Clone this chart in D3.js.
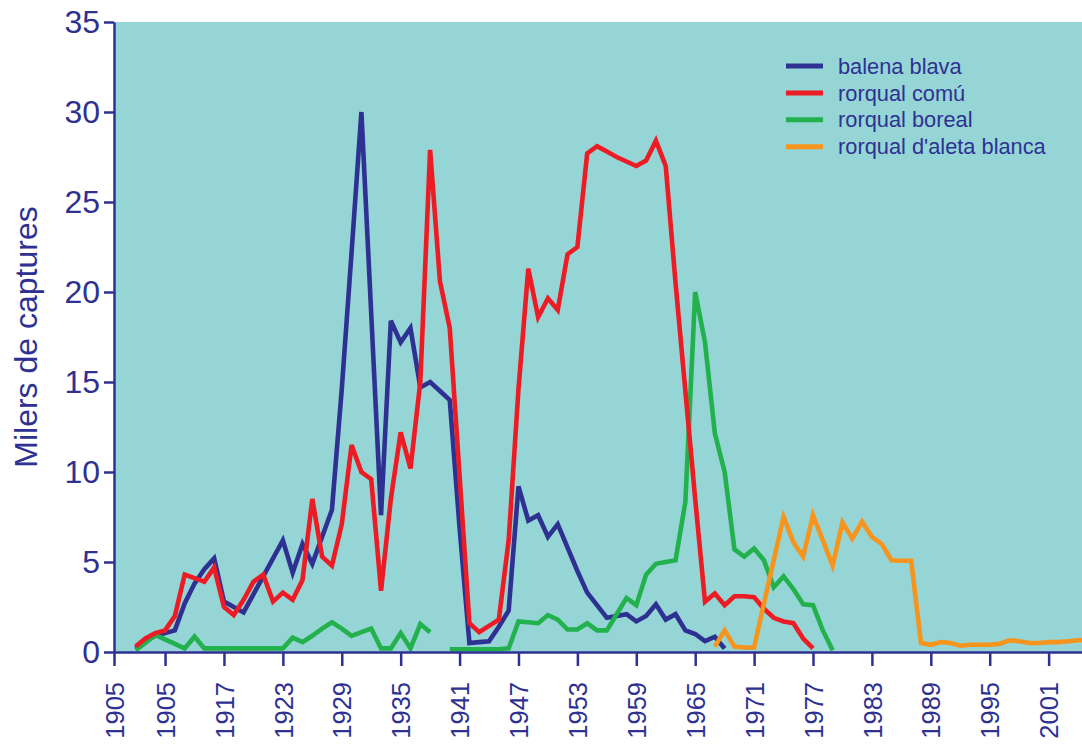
<!DOCTYPE html>
<html>
<head>
<meta charset="utf-8">
<script src="https://cdn.jsdelivr.net/npm/d3@7"></script>
<style>
  body { margin: 0; background: #fff; }
  text { font-family: "Liberation Sans", Arial, sans-serif; fill: #2e3192; }
</style>
</head>
<body>
<script>
//data (milers de captures per any)
var blueStart = 1908;
var blueValues = [0.2, 0.6, 0.9, 1.05, 1.2, 2.7, 3.8, 4.6, 5.2, 2.8, 2.5, 2.2, 3.2, 4.2, 5.2, 6.2,
  4.4, 6.0, 4.9, 6.4, 7.9, 14.6, 22.2, 30.0, 18.8, 7.6, 18.4, 17.2, 18.0, 14.7, 15.0, 14.5, 14.0,
  6.9, 0.5, 0.55, 0.6, 1.4, 2.3, 9.2, 7.3, 7.6, 6.4, 7.1, 5.8, 4.5, 3.3, 2.6, 1.9, 2.0, 2.1, 1.7,
  2.0, 2.65, 1.8, 2.1, 1.2, 1.0, 0.6, 0.85, 0.2];

var redStart = 1908;
var redValues = [0.3, 0.75, 1.05, 1.2, 2.0, 4.3, 4.1, 3.9, 4.7, 2.5, 2.05, 2.9, 3.9, 4.3, 2.8, 3.3,
  2.9, 4.0, 8.5, 5.3, 4.8, 7.1, 11.5, 10.0, 9.6, 3.4, 8.5, 12.2, 10.2, 15.0, 27.9, 20.6, 18.0,
  9.8, 1.6, 1.1, 1.45, 1.8, 6.2, 14.6, 21.3, 18.6, 19.65, 19.0, 22.1, 22.5, 27.7, 28.1, 27.8,
  27.5, 27.25, 27.0, 27.3, 28.4, 27.0, 20.5, 14.5, 8.5, 2.8, 3.25, 2.6, 3.1, 3.1, 3.05, 2.4, 1.9,
  1.7, 1.6, 0.75, 0.2];

var greenStart = 1908;
var greenValues = [0.1, 0.5, 0.95, 0.7, 0.45, 0.2, 0.85, 0.2, 0.2, 0.2, 0.2, 0.2, 0.2, 0.2, 0.2,
  0.2, 0.8, 0.55, 0.9, 1.3, 1.65, 1.3, 0.9, 1.1, 1.3, 0.2, 0.2, 1.05, 0.2, 1.55, 1.1, null, 0.15,
  0.15, 0.15, 0.15, 0.15, 0.15, 0.2, 1.7, 1.65, 1.6, 2.05, 1.8, 1.25, 1.25, 1.6, 1.2, 1.2, 2.1,
  3.0, 2.6, 4.3, 4.9, 5.0, 5.1, 8.35, 20.0, 17.2, 12.15, 10.0, 5.7, 5.3, 5.75, 5.1, 3.6, 4.2, 3.5,
  2.65, 2.6, 1.2, 0.1];

var orangeStart = 1967;
var orangeValues = [0.3, 1.2, 0.3, 0.25, 0.25, 2.7, 5.1, 7.5, 6.1, 5.3, 7.6, 6.2, 4.8, 7.2, 6.3,
  7.24, 6.4, 6.0, 5.1, 5.07, 5.07, 0.5, 0.4, 0.55, 0.5, 0.35, 0.4, 0.4, 0.4, 0.45, 0.65, 0.6,
  0.5, 0.5, 0.55, 0.55, 0.6, 0.65, 0.7];

var seriesNames = ['balena blava', 'rorqual comú', 'rorqual boreal', "rorqual d'aleta blanca"];
var seriesColors = ['#2e3192', '#ed1c24', '#22b14c', '#f7941d'];

var xTickYears = [1905.8, 1911, 1917, 1923, 1929, 1935, 1941, 1947, 1953, 1959, 1965, 1971, 1977, 1983, 1989, 1995, 2001];
var xTickLabels = ['1905', '1905', '1917', '1923', '1929', '1935', '1941', '1947', '1953', '1959', '1965', '1971', '1977', '1983', '1989', '1995', '2001'];
var yTicks = [0, 5, 10, 15, 20, 25, 30, 35];

function toPoints(start, values) {
  return values.map(function(v, i) { return {year: start + i, value: v}; });
}

var series = [
  toPoints(blueStart, blueValues),
  toPoints(greenStart, greenValues),
  toPoints(redStart, redValues),
  toPoints(orangeStart, orangeValues)
];
var drawColors = [seriesColors[0], seriesColors[2], seriesColors[1], seriesColors[3]];

//scales
var plotLeft = 114, plotRight = 1082, plotTop = 22, plotBottom = 652;
var axisColor = '#2e3192';

var x = d3.scaleLinear().domain([1905.8, 2004.4]).range([plotLeft, plotRight]);
var y = d3.scaleLinear().domain([0, 35]).range([plotBottom, plotTop]);

var svg = d3.select('body')
  .append('svg')
  .attr('width', 1082)
  .attr('height', 746);

svg.append('defs').append('clipPath')
  .attr('id', 'plot')
  .append('rect')
  .attr('x', plotLeft).attr('y', plotTop)
  .attr('width', plotRight - plotLeft).attr('height', plotBottom - plotTop);

svg.append('rect')
  .attr('x', plotLeft)
  .attr('y', plotTop)
  .attr('width', plotRight - plotLeft)
  .attr('height', plotBottom - plotTop)
  .attr('fill', '#95d5d5');

var line = d3.line()
  .defined(function(d) { return d.value !== null; })
  .x(function(d) { return x(d.year); })
  .y(function(d) { return y(d.value); });

svg.append('g')
  .attr('clip-path', 'url(#plot)')
  .selectAll('path')
  .data(series)
  .enter()
  .append('path')
  .attr('d', line)
  .attr('fill', 'none')
  .attr('stroke', function(d, i) { return drawColors[i]; })
  .attr('stroke-width', 4.6);

//axes
var xAxis = svg.append('g')
  .attr('transform', 'translate(0,' + plotBottom + ')')
  .call(d3.axisBottom(x)
    .tickValues(xTickYears)
    .tickFormat(function(d, i) { return xTickLabels[i]; })
    .tickSize(14)
    .tickSizeOuter(0));

xAxis.selectAll('text')
  .attr('transform', 'translate(0,30) rotate(-90)')
  .attr('x', 0)
  .attr('y', 0)
  .attr('dy', '0.36em')
  .style('text-anchor', 'end')
  .style('font-size', '25.5px');

var yAxis = svg.append('g')
  .attr('transform', 'translate(' + plotLeft + ',0)')
  .call(d3.axisLeft(y)
    .tickValues(yTicks)
    .tickSize(10)
    .tickSizeOuter(0)
    .tickPadding(4));

yAxis.selectAll('text')
  .style('font-size', '32px');

svg.selectAll('.domain, .tick line')
  .attr('stroke', axisColor)
  .attr('stroke-width', 2.5);

svg.append('text')
  .attr('transform', 'translate(37,337) rotate(-90)')
  .attr('text-anchor', 'middle')
  .style('font-size', '32px')
  .text('Milers de captures');

//legend
var legend = svg.selectAll('.legend')
  .data(seriesNames)
  .enter()
  .append('g')
  .attr('class', 'legend')
  .attr('transform', function(d, i) { return 'translate(786,' + (66 + i * 26.9) + ')'; });

legend.append('line')
  .attr('x1', 0).attr('x2', 37)
  .attr('stroke', function(d, i) { return seriesColors[i]; })
  .attr('stroke-width', 5);

legend.append('text')
  .attr('x', 52)
  .attr('dy', '0.35em')
  .style('font-size', '21.8px')
  .text(function(d) { return d; });
</script>
</body>
</html>
